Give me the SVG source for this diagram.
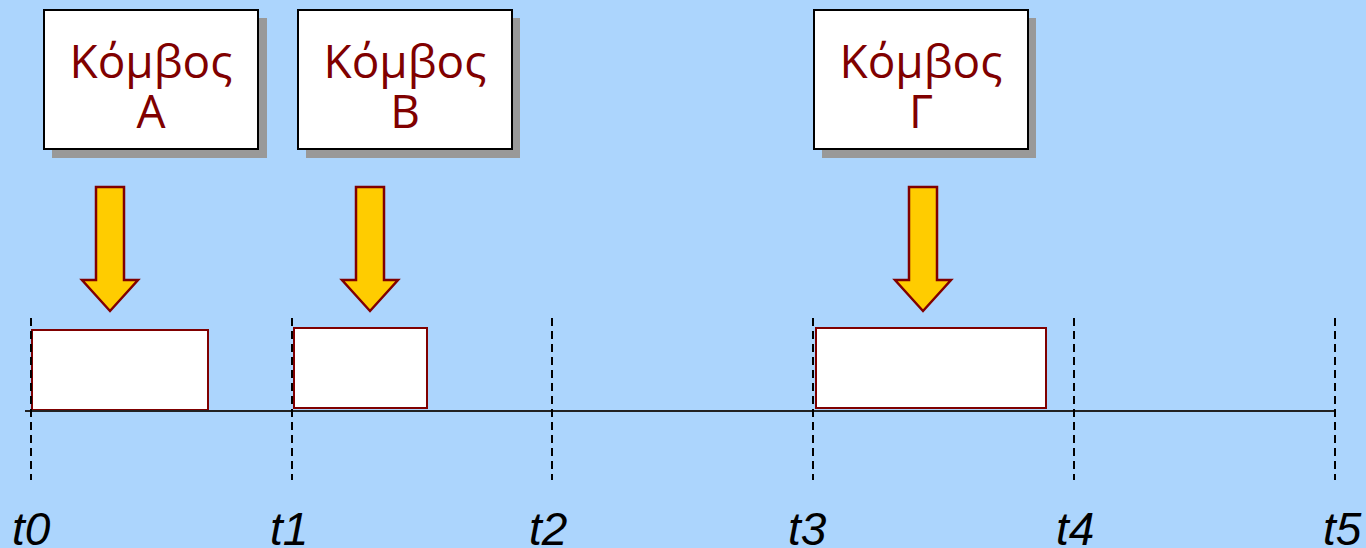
<svg xmlns="http://www.w3.org/2000/svg" width="1366" height="548" viewBox="0 0 1366 548">
  <defs>
    <style>
      .shadow { fill: #999999; }
      .box { fill: #ffffff; stroke: #000000; stroke-width: 2; }
      .lbl { font-family: "Open Sans", "DejaVu Sans", sans-serif; font-size: 46px; fill: #800000; text-anchor: middle; }
      .arrow { fill: #FFCC00; stroke: #800000; stroke-width: 2.5; stroke-linejoin: miter; }
      .slot { fill: #ffffff; stroke: #800000; stroke-width: 2; }
      .tick { stroke: #000000; stroke-width: 2; stroke-dasharray: 8 5; fill: none; }
      .axis { stroke: #222222; stroke-width: 2; }
      .tl { font-family: "Liberation Sans", Arial, sans-serif; font-style: italic; font-size: 46px; fill: #000000; }
    </style>
  </defs>
  <rect x="0" y="0" width="1366" height="548" fill="#ACD5FD"/>

  <g id="nodeA">
    <rect class="shadow" x="52" y="18" width="215" height="140"/>
    <rect class="box" x="44" y="10" width="214" height="139"/>
    <text class="lbl" x="151" y="78">Κόμβος</text>
    <text class="lbl" x="151" y="128">Α</text>
  </g>
  <g id="nodeB">
    <rect class="shadow" x="306" y="18" width="214" height="140"/>
    <rect class="box" x="298" y="10" width="214" height="139"/>
    <text class="lbl" x="405" y="78">Κόμβος</text>
    <text class="lbl" x="405" y="128">Β</text>
  </g>
  <g id="nodeG">
    <rect class="shadow" x="822" y="18" width="214" height="140"/>
    <rect class="box" x="814" y="10" width="214" height="139"/>
    <text class="lbl" x="921" y="78">Κόμβος</text>
    <text class="lbl" x="921" y="128">Γ</text>
  </g>

  <g id="arrows">
    <polygon class="arrow" points="96,187 124,187 124,280 138,280 110,311 82,280 96,280"/>
    <polygon class="arrow" points="356,187 384,187 384,280 398,280 370,311 342,280 356,280"/>
    <polygon class="arrow" points="909,187 937,187 937,280 951,280 923,311 895,280 909,280"/>
  </g>

  <g id="slots">
    <rect class="slot" x="32" y="330" width="176" height="80"/>
    <rect class="slot" x="294" y="328" width="133" height="80"/>
    <rect class="slot" x="816" y="328" width="230" height="80"/>
  </g>

  <g id="connectors">
    <line class="axis" x1="25" y1="411" x2="1335" y2="411"/>
    <line class="tick" x1="31" y1="318" x2="31" y2="480"/>
    <line class="tick" x1="292" y1="318" x2="292" y2="480"/>
    <line class="tick" x1="552" y1="318" x2="552" y2="480"/>
    <line class="tick" x1="813" y1="318" x2="813" y2="480"/>
    <line class="tick" x1="1074" y1="318" x2="1074" y2="480"/>
    <line class="tick" x1="1335" y1="318" x2="1335" y2="480"/>
  </g>

  <g id="timeLabels">
    <text class="tl" x="12" y="545">t0</text>
    <text class="tl" x="270" y="545">t1</text>
    <text class="tl" x="529" y="545">t2</text>
    <text class="tl" x="788" y="545">t3</text>
    <text class="tl" x="1056" y="545">t4</text>
    <text class="tl" x="1323" y="545">t5</text>
  </g>
</svg>
